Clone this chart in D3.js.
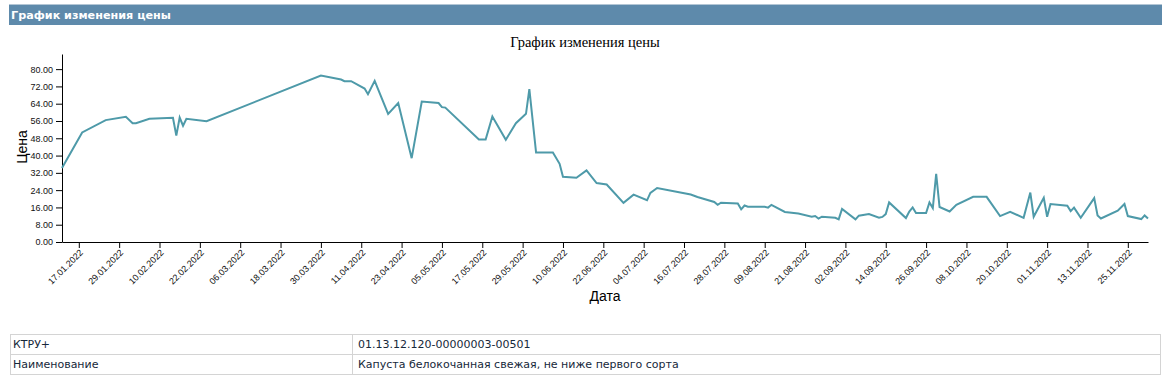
<!DOCTYPE html>
<html>
<head>
<meta charset="utf-8">
<script src="https://cdn.jsdelivr.net/npm/d3@7"></script>
<style>
  body { margin: 0; background: #fff; font-family: "DejaVu Sans", Verdana, sans-serif; }
  #head {
    position: absolute; left: 9px; top: 4px; width: 1153px; height: 21px;
    background: #5e8aab; border-top: 1px solid #b3c6d5;
    color: #fff; font-weight: bold; font-size: 11.2px; line-height: 21px;
    padding-left: 2px; box-sizing: border-box;
  }
  #graph { position: absolute; left: 0; top: 0; }
  #info {
    position: absolute; left: 10px; top: 334px; width: 1151px;
    border-collapse: collapse; font-size: 11px; color: #16283a;
  }
  #info td { border: 1px solid #d4d4d4; height: 19px; padding: 0 0 0 2px; }
  #info td + td { padding-left: 5px; }
  .axis text { font-family: "Liberation Sans", Arial, sans-serif; fill: #111; }
</style>
</head>
<body>
<div id="head">График изменения цены</div>
<div id="graph"></div>
<table id="info">
  <tr><td style="width:339px">КТРУ+</td><td>01.13.12.120-00000003-00501</td></tr>
  <tr><td>Наименование</td><td>Капуста белокочанная свежая, не ниже первого сорта</td></tr>
</table>
<script>
var dates = [
  "12.01.2022", "18.01.2022", "25.01.2022", "31.01.2022", "02.02.2022", "03.02.2022",
  "07.02.2022", "14.02.2022", "15.02.2022", "16.02.2022", "17.02.2022", "18.02.2022",
  "24.02.2022", "30.03.2022", "05.04.2022", "06.04.2022", "08.04.2022", "12.04.2022",
  "13.04.2022", "15.04.2022", "19.04.2022", "22.04.2022", "26.04.2022", "29.04.2022",
  "04.05.2022", "05.05.2022", "06.05.2022", "16.05.2022", "18.05.2022", "20.05.2022",
  "24.05.2022", "27.05.2022", "30.05.2022", "31.05.2022", "02.06.2022", "07.06.2022",
  "09.06.2022", "10.06.2022", "14.06.2022", "17.06.2022", "20.06.2022", "23.06.2022",
  "28.06.2022", "01.07.2022", "05.07.2022", "06.07.2022", "08.07.2022", "18.07.2022",
  "20.07.2022", "25.07.2022", "26.07.2022", "27.07.2022", "01.08.2022", "02.08.2022",
  "03.08.2022", "04.08.2022", "09.08.2022", "10.08.2022", "11.08.2022", "15.08.2022",
  "19.08.2022", "23.08.2022", "24.08.2022", "25.08.2022", "26.08.2022", "30.08.2022",
  "31.08.2022", "01.09.2022", "05.09.2022", "06.09.2022", "09.09.2022", "12.09.2022",
  "13.09.2022", "14.09.2022", "15.09.2022", "20.09.2022", "21.09.2022", "22.09.2022",
  "23.09.2022", "26.09.2022", "27.09.2022", "28.09.2022", "29.09.2022", "30.09.2022",
  "03.10.2022", "05.10.2022", "10.10.2022", "14.10.2022", "18.10.2022", "21.10.2022",
  "25.10.2022", "27.10.2022", "28.10.2022", "31.10.2022", "01.11.2022", "02.11.2022",
  "07.11.2022", "08.11.2022", "09.11.2022", "11.11.2022", "15.11.2022", "16.11.2022",
  "17.11.2022", "22.11.2022", "24.11.2022", "25.11.2022", "29.11.2022", "30.11.2022",
  "01.12.2022"
];

var prices = [
  34.2, 50.7, 56.4, 57.9, 55.0, 55.0,
  57.0, 57.5, 49.2, 57.6, 53.8, 57.0,
  55.9, 77.0, 75.2, 74.4, 74.4, 71.0,
  68.4, 74.6, 59.3, 64.3, 38.8, 65.0,
  64.3, 62.4, 62.2, 47.4, 47.4, 58.1,
  47.3, 55.0, 59.3, 70.7, 41.4, 41.4,
  36.2, 30.2, 29.7, 33.1, 27.3, 26.6,
  18.1, 21.9, 19.3, 22.7, 25.0, 22.0,
  20.8, 18.5, 17.2, 18.2, 17.8, 15.1,
  16.9, 16.3, 16.3, 15.9, 17.2, 13.9,
  13.2, 11.7, 12.0, 10.8, 11.7, 11.2,
  10.5, 15.3, 10.5, 12.2, 12.9, 11.2,
  11.6, 12.9, 18.3, 11.1, 14.1, 16.0,
  13.4, 13.4, 18.3, 15.7, 31.5, 16.2,
  14.1, 17.2, 20.9, 20.9, 12.0, 14.0,
  11.2, 22.9, 11.7, 20.5, 11.7, 17.6,
  16.8, 14.3, 15.9, 11.2, 20.3, 12.3,
  10.9, 14.5, 17.6, 12.0, 10.6, 12.3,
  10.9
];

var xTickLabels = [
  "17.01.2022", "29.01.2022", "10.02.2022", "22.02.2022", "06.03.2022", "18.03.2022",
  "30.03.2022", "11.04.2022", "23.04.2022", "05.05.2022", "17.05.2022", "29.05.2022",
  "10.06.2022", "22.06.2022", "04.07.2022", "16.07.2022", "28.07.2022", "09.08.2022",
  "21.08.2022", "02.09.2022", "14.09.2022", "26.09.2022", "08.10.2022", "20.10.2022",
  "01.11.2022", "13.11.2022", "25.11.2022"
];

var yTickValues = [0, 8, 16, 24, 32, 40, 48, 56, 64, 72, 80];

var chartTitle = "График изменения цены";
var xTitle = "Дата";
var yTitle = "Цена";

var width = 1170, height = 330;
var margin = { top: 54, left: 62, bottom: 88, right: 22 };
var chartWidth = width - margin.left - margin.right;
var chartHeight = height - margin.top - margin.bottom;

var parse = d3.timeParse("%d.%m.%Y");
var fmt = d3.timeFormat("%d.%m.%Y");

var data = dates.map(function(d, i) {
  return { date: parse(d), price: prices[i] };
});

var svg = d3.select("#graph").append("svg")
  .attr("width", width)
  .attr("height", height);

var axisLayer = svg.append("g").classed("axisLayer", true);
var chartLayer = svg.append("g").classed("chartLayer", true)
  .attr("transform", "translate(" + [margin.left, margin.top] + ")");

var xScale = d3.scaleTime()
  .domain(d3.extent(data, function(d) { return d.date; }))
  .range([0, chartWidth]);

var yScale = d3.scaleLinear()
  .domain([0, d3.max(prices) + 10])
  .range([chartHeight, 0]);

svg.append("text")
  .attr("x", width / 2)
  .attr("y", 47)
  .attr("text-anchor", "middle")
  .style("font-family", "'Liberation Serif', 'Times New Roman', serif")
  .style("font-size", "14.5px")
  .text(chartTitle);

axisLayer.append("g")
  .attr("class", "axis y")
  .attr("transform", "translate(" + [margin.left, margin.top] + ")")
  .call(d3.axisLeft(yScale).tickValues(yTickValues).tickFormat(d3.format(".2f")).tickSizeOuter(0))
  .selectAll("text")
  .style("font-size", "9px");

var xAxis = axisLayer.append("g")
  .attr("class", "axis x")
  .attr("transform", "translate(" + [margin.left, margin.top + chartHeight] + ")")
  .call(d3.axisBottom(xScale).tickValues(xTickLabels.map(parse)).tickFormat(fmt).tickSizeOuter(0));

xAxis.selectAll("text")
  .style("font-size", "9px")
  .attr("text-anchor", "end")
  .attr("x", 0)
  .attr("y", 0)
  .attr("dy", "0.35em")
  .attr("transform", "translate(2,9) rotate(-45)");

axisLayer.append("text")
  .attr("transform", "translate(27," + (margin.top + chartHeight / 2 - 1) + ") rotate(-90)")
  .attr("text-anchor", "middle")
  .style("font-family", "'Liberation Sans', Arial, sans-serif")
  .style("font-size", "14px")
  .text(yTitle);

axisLayer.append("text")
  .attr("x", margin.left + chartWidth / 2)
  .attr("y", 301)
  .attr("text-anchor", "middle")
  .style("font-family", "'Liberation Sans', Arial, sans-serif")
  .style("font-size", "14px")
  .text(xTitle);

var line = d3.line()
  .x(function(d) { return xScale(d.date); })
  .y(function(d) { return yScale(d.price); });

chartLayer.append("path")
  .datum(data)
  .attr("fill", "none")
  .attr("stroke", "#4e9aa9")
  .attr("stroke-width", 2)
  .attr("d", line);
</script>
</body>
</html>
